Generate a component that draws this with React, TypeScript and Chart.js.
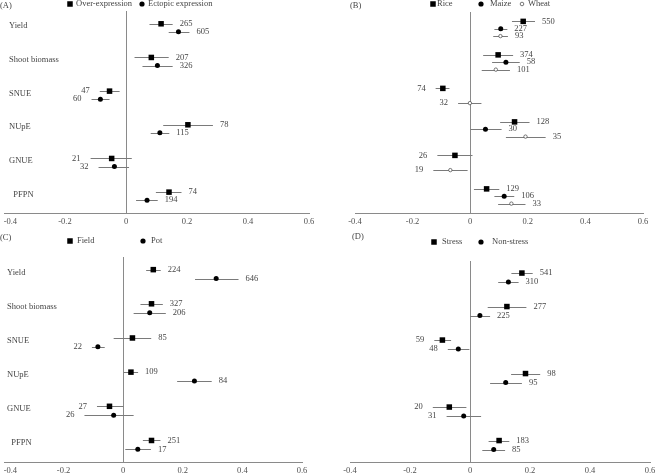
import React, { useEffect, useRef } from 'react';
import { Chart, registerables } from 'chart.js';

Chart.register(...registerables);

// ---------- data ----------
const CATEGORIES = ['Yield', 'Shoot biomass', 'SNUE', 'NUpE', 'GNUE', 'PFPN'];
const X_MIN = -0.4;
const X_MAX = 0.6;
const X_STEP = 0.2;

// (A) Over-expression vs Ectopic expression
const A_OVER_MEAN = [0.115, 0.083, -0.054, 0.203, -0.047, 0.141];
const A_OVER_LOW = [0.077, 0.028, -0.086, 0.122, -0.116, 0.098];
const A_OVER_HIGH = [0.153, 0.14, -0.021, 0.285, 0.019, 0.182];
const A_OVER_N = [265, 207, 47, 78, 21, 74];
const A_ECTO_MEAN = [0.172, 0.103, -0.084, 0.111, -0.038, 0.069];
const A_ECTO_LOW = [0.14, 0.054, -0.113, 0.081, -0.09, 0.033];
const A_ECTO_HIGH = [0.208, 0.153, -0.054, 0.142, 0.01, 0.104];
const A_ECTO_N = [605, 326, 60, 115, 32, 194];

// (B) Rice / Maize / Wheat
const B_RICE_MEAN = [0.184, 0.097, -0.095, 0.154, -0.053, 0.057];
const B_RICE_LOW = [0.145, 0.045, -0.12, 0.104, -0.114, 0.013];
const B_RICE_HIGH = [0.225, 0.149, -0.072, 0.206, 0.008, 0.101];
const B_RICE_N = [550, 374, 74, 128, 26, 129];
const B_MAIZE_MEAN = [0.106, 0.124, null, 0.053, null, 0.118];
const B_MAIZE_LOW = [0.084, 0.076, null, 0.001, null, 0.084];
const B_MAIZE_HIGH = [0.129, 0.172, null, 0.109, null, 0.153];
const B_MAIZE_N = [227, 58, null, 30, null, 106];
const B_WHEAT_MEAN = [0.105, 0.089, -0.001, 0.192, -0.069, 0.143];
const B_WHEAT_LOW = [0.08, 0.04, -0.042, 0.124, -0.128, 0.097];
const B_WHEAT_HIGH = [0.131, 0.138, 0.039, 0.262, -0.009, 0.192];
const B_WHEAT_N = [93, 101, 32, 35, 19, 33];

// (C) Field / Pot
const C_FIELD_MEAN = [0.101, 0.095, 0.031, 0.026, -0.046, 0.095];
const C_FIELD_LOW = [0.077, 0.058, -0.032, 0.002, -0.088, 0.066];
const C_FIELD_HIGH = [0.126, 0.133, 0.094, 0.05, 0.001, 0.125];
const C_FIELD_N = [224, 327, 85, 109, 27, 251];
const C_POT_MEAN = [0.312, 0.089, -0.085, 0.239, -0.032, 0.049];
const C_POT_LOW = [0.241, 0.035, -0.105, 0.181, -0.13, 0.007];
const C_POT_HIGH = [0.387, 0.143, -0.062, 0.297, 0.035, 0.093];
const C_POT_N = [646, 206, 22, 84, 26, 17];

// (D) Stress / Non-stress
const D_STRESS_MEAN = [0.173, 0.123, -0.092, 0.185, -0.069, 0.097];
const D_STRESS_LOW = [0.138, 0.059, -0.119, 0.137, -0.124, 0.062];
const D_STRESS_HIGH = [0.209, 0.188, -0.063, 0.234, -0.012, 0.131];
const D_STRESS_N = [541, 277, 59, 98, 20, 183];
const D_NON_MEAN = [0.128, 0.033, -0.039, 0.119, -0.021, 0.079];
const D_NON_LOW = [0.094, 0.0, -0.074, 0.067, -0.078, 0.041];
const D_NON_HIGH = [0.162, 0.067, -0.002, 0.173, 0.037, 0.117];
const D_NON_N = [310, 225, 48, 95, 31, 85];

// ---------- styles ----------
const FONT_FAMILY = '"Liberation Serif", "Times New Roman", serif';
const FONT_SIZE = 8.5;
const TEXT_COLOR = '#454545';
const TICK_COLOR = '#505050';
const AXIS_COLOR = '#8a8a8a';
const CI_COLOR = '#7a7a7a';

type Marker = 'square' | 'dot' | 'ring';

interface Series {
  name: string;
  mean: (number | null)[];
  low: (number | null)[];
  high: (number | null)[];
  n: (number | null)[];
  marker: Marker;
  offset: number;
}

interface LegendItem { marker: Marker; x: number; tx: number; text: string }

interface PanelCfg {
  id: string;
  tag: string;
  tagX: number;
  tagY: number;
  left: number;
  top: number;
  w: number;
  h: number;
  pad: { left: number; right: number; top: number; bottom: number };
  axisH: number;
  showCats: boolean;
  catPad: number;
  shiftFirstTick: boolean;
  legendY: number;
  legend: LegendItem[];
  series: Series[];
}

function markerStyle(m: Marker) {
  if (m === 'square') return { pointStyle: 'rect', pointRadius: 3.9, backgroundColor: '#000', borderColor: '#000', borderWidth: 0 };
  if (m === 'dot') return { pointStyle: 'circle', pointRadius: 2.5, backgroundColor: '#000', borderColor: '#000', borderWidth: 0 };
  return { pointStyle: 'circle', pointRadius: 1.7, backgroundColor: '#fff', borderColor: '#555', borderWidth: 0.8 };
}

function drawMarker(ctx: CanvasRenderingContext2D, m: Marker, x: number, y: number) {
  ctx.save();
  if (m === 'square') {
    ctx.fillStyle = '#000';
    ctx.fillRect(x - 2.75, y - 2.75, 5.5, 5.5);
  } else if (m === 'dot') {
    ctx.fillStyle = '#000';
    ctx.beginPath();
    ctx.arc(x, y, 2.6, 0, Math.PI * 2);
    ctx.fill();
  } else {
    ctx.fillStyle = '#fff';
    ctx.strokeStyle = '#555';
    ctx.lineWidth = 0.8;
    ctx.beginPath();
    ctx.arc(x, y, 1.8, 0, Math.PI * 2);
    ctx.fill();
    ctx.stroke();
  }
  ctx.restore();
}

const PANELS: PanelCfg[] = [
  {
    id: 'A', tag: '(A)', tagX: 0, tagY: 6,
    left: 0, top: 0, w: 329, h: 235,
    pad: { left: 2, right: 20, top: 11, bottom: 0 }, axisH: 22,
    showCats: true, catPad: 5, shiftFirstTick: true,
    legendY: 4,
    legend: [
      { marker: 'square', x: 70, tx: 76, text: 'Over-expression' },
      { marker: 'dot', x: 142, tx: 148, text: 'Ectopic expression' },
    ],
    series: [
      { name: 'Over-expression', mean: A_OVER_MEAN, low: A_OVER_LOW, high: A_OVER_HIGH, n: A_OVER_N, marker: 'square', offset: -0.12 },
      { name: 'Ectopic expression', mean: A_ECTO_MEAN, low: A_ECTO_LOW, high: A_ECTO_HIGH, n: A_ECTO_N, marker: 'dot', offset: 0.12 },
    ],
  },
  {
    id: 'B', tag: '(B)', tagX: 21, tagY: 6,
    left: 329, top: 0, w: 329, h: 235,
    pad: { left: 26, right: 15, top: 12, bottom: 0 }, axisH: 22,
    showCats: false, catPad: 0, shiftFirstTick: false,
    legendY: 4,
    legend: [
      { marker: 'square', x: 104, tx: 108, text: 'Rice' },
      { marker: 'dot', x: 152, tx: 161, text: 'Maize' },
      { marker: 'ring', x: 193, tx: 199, text: 'Wheat' },
    ],
    series: [
      { name: 'Rice', mean: B_RICE_MEAN, low: B_RICE_LOW, high: B_RICE_HIGH, n: B_RICE_N, marker: 'square', offset: -0.22 },
      { name: 'Maize', mean: B_MAIZE_MEAN, low: B_MAIZE_LOW, high: B_MAIZE_HIGH, n: B_MAIZE_N, marker: 'dot', offset: 0 },
      { name: 'Wheat', mean: B_WHEAT_MEAN, low: B_WHEAT_LOW, high: B_WHEAT_HIGH, n: B_WHEAT_N, marker: 'ring', offset: 0.22 },
    ],
  },
  {
    id: 'C', tag: '(C)', tagX: 0, tagY: 13,
    left: 0, top: 225, w: 329, h: 250,
    pad: { left: 3, right: 27, top: 32, bottom: 0 }, axisH: 13,
    showCats: true, catPad: 3, shiftFirstTick: true,
    legendY: 16,
    legend: [
      { marker: 'square', x: 70, tx: 77, text: 'Field' },
      { marker: 'dot', x: 143, tx: 151, text: 'Pot' },
    ],
    series: [
      { name: 'Field', mean: C_FIELD_MEAN, low: C_FIELD_LOW, high: C_FIELD_HIGH, n: C_FIELD_N, marker: 'square', offset: -0.13 },
      { name: 'Pot', mean: C_POT_MEAN, low: C_POT_LOW, high: C_POT_HIGH, n: C_POT_N, marker: 'dot', offset: 0.13 },
    ],
  },
  {
    id: 'D', tag: '(D)', tagX: 23, tagY: 12,
    left: 329, top: 225, w: 329, h: 250,
    pad: { left: 21, right: 8, top: 36, bottom: 0 }, axisH: 13,
    showCats: false, catPad: 0, shiftFirstTick: false,
    legendY: 17,
    legend: [
      { marker: 'square', x: 105, tx: 113, text: 'Stress' },
      { marker: 'dot', x: 152, tx: 163, text: 'Non-stress' },
    ],
    series: [
      { name: 'Stress', mean: D_STRESS_MEAN, low: D_STRESS_LOW, high: D_STRESS_HIGH, n: D_STRESS_N, marker: 'square', offset: -0.14 },
      { name: 'Non-stress', mean: D_NON_MEAN, low: D_NON_LOW, high: D_NON_HIGH, n: D_NON_N, marker: 'dot', offset: 0.13 },
    ],
  },
];

function fmtTick(v: number) {
  const r = Math.round(v * 10) / 10;
  return r === 0 ? '0' : String(r);
}

function makePlugin(cfg: PanelCfg) {
  const font = `${FONT_SIZE}px ${FONT_FAMILY}`;
  return {
    id: 'forest' + cfg.id,
    beforeDatasetsDraw(chart: any) {
      const ctx: CanvasRenderingContext2D = chart.ctx;
      const xs = chart.scales.x;
      chart.data.datasets.forEach((ds: any, di: number) => {
        const meta = chart.getDatasetMeta(di);
        meta.data.forEach((el: any, i: number) => {
          const p = ds.data[i];
          const y = Math.round(el.y) + 0.5;
          ctx.save();
          ctx.strokeStyle = CI_COLOR;
          ctx.lineWidth = 1;
          ctx.beginPath();
          ctx.moveTo(xs.getPixelForValue(p.lo), y);
          ctx.lineTo(xs.getPixelForValue(p.hi), y);
          ctx.stroke();
          ctx.restore();
        });
      });
    },
    afterDatasetsDraw(chart: any) {
      const ctx: CanvasRenderingContext2D = chart.ctx;
      const xs = chart.scales.x;
      ctx.save();
      ctx.font = font;
      ctx.fillStyle = TEXT_COLOR;
      ctx.textBaseline = 'middle';
      chart.data.datasets.forEach((ds: any, di: number) => {
        const meta = chart.getDatasetMeta(di);
        meta.data.forEach((el: any, i: number) => {
          const p = ds.data[i];
          if (p.x < 0) {
            ctx.textAlign = 'right';
            ctx.fillText(String(p.n), xs.getPixelForValue(p.lo) - 10, el.y);
          } else {
            ctx.textAlign = 'left';
            ctx.fillText(String(p.n), xs.getPixelForValue(p.hi) + 7, el.y);
          }
        });
      });
      ctx.restore();
    },
    afterDraw(chart: any) {
      const ctx: CanvasRenderingContext2D = chart.ctx;
      ctx.save();
      ctx.font = font;
      ctx.fillStyle = TEXT_COLOR;
      ctx.textBaseline = 'middle';
      ctx.textAlign = 'left';
      ctx.fillText(cfg.tag, cfg.tagX, cfg.tagY);
      cfg.legend.forEach((it) => {
        drawMarker(ctx, it.marker, it.x, cfg.legendY);
        ctx.fillStyle = TEXT_COLOR;
        ctx.fillText(it.text, it.tx, cfg.legendY);
      });
      ctx.restore();
    },
  };
}

function buildDatasets(cfg: PanelCfg) {
  return cfg.series.map((s) => {
    const data: any[] = [];
    s.mean.forEach((m, i) => {
      if (m === null || m === undefined) return;
      data.push({ x: m, y: i + 0.5 + s.offset, lo: s.low[i], hi: s.high[i], n: s.n[i] });
    });
    return { label: s.name, data, showLine: false, ...markerStyle(s.marker) };
  });
}

function Panel({ cfg }: { cfg: PanelCfg }) {
  const ref = useRef<HTMLCanvasElement>(null);
  useEffect(() => {
    const font = { family: FONT_FAMILY, size: FONT_SIZE };
    const chart = new Chart(ref.current as HTMLCanvasElement, {
      type: 'scatter',
      data: { datasets: buildDatasets(cfg) as any },
      options: {
        responsive: false,
        animation: false,
        events: [],
        layout: { padding: cfg.pad },
        plugins: { legend: { display: false }, tooltip: { enabled: false }, title: { display: false } },
        scales: {
          x: {
            type: 'linear',
            position: 'bottom',
            min: X_MIN,
            max: X_MAX,
            afterFit: (s: any) => {
              s.paddingLeft = 0;
              s.paddingRight = 0;
              s.height = cfg.axisH;
            },
            ticks: {
              stepSize: X_STEP,
              padding: 4,
              color: TICK_COLOR,
              font,
              maxRotation: 0,
              autoSkip: false,
              callback: (v: any, i: number) => {
                const t = fmtTick(Number(v));
                return cfg.shiftFirstTick && i === 0 ? '\u2002\u2002\u2002' + t : t;
              },
            },
            grid: {
              drawTicks: false,
              lineWidth: 1,
              color: (c: any) => (c.tick && Math.abs(c.tick.value) < 1e-9 ? AXIS_COLOR : 'rgba(0,0,0,0)'),
            },
            border: { display: true, color: AXIS_COLOR, width: 1 },
          },
          y: {
            type: 'linear',
            position: 'left',
            min: 0,
            max: CATEGORIES.length,
            reverse: true,
            display: cfg.showCats,
            afterBuildTicks: (s: any) => {
              s.ticks = CATEGORIES.map((_, i) => ({ value: i + 0.45 }));
            },
            afterFit: (s: any) => {
              s.width = 0;
              s.paddingTop = 0;
              s.paddingBottom = 0;
            },
            ticks: {
              mirror: true,
              padding: cfg.catPad,
              color: TEXT_COLOR,
              font,
              autoSkip: false,
              callback: (_v: any, i: number) => (CATEGORIES[i] === 'PFPN' ? '\u2002' + CATEGORIES[i] : CATEGORIES[i]),
            },
            grid: { display: false, drawTicks: false },
            border: { display: false },
          },
        },
      },
      plugins: [makePlugin(cfg)],
    } as any);
    return () => chart.destroy();
  }, [cfg]);
  return (
    <canvas
      ref={ref}
      width={cfg.w}
      height={cfg.h}
      style={{ position: 'absolute', left: cfg.left, top: cfg.top, width: cfg.w, height: cfg.h }}
    />
  );
}

export default function App() {
  return (
    <div style={{ position: 'fixed', left: 0, top: 0, width: 658, height: 475, background: '#fff', overflow: 'hidden' }}>
      {PANELS.map((p) => (
        <Panel key={p.id} cfg={p} />
      ))}
    </div>
  );
}
